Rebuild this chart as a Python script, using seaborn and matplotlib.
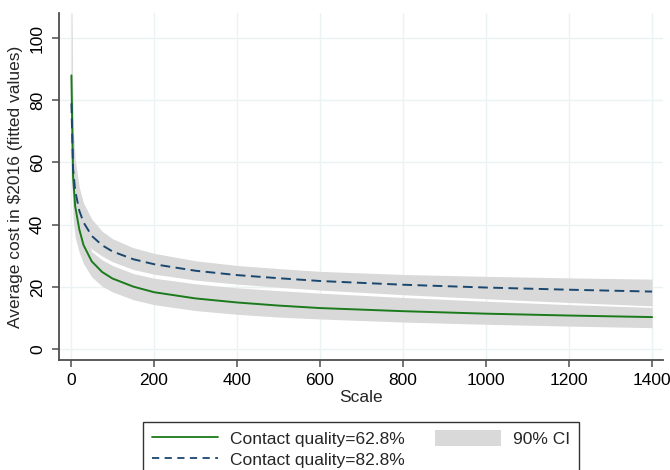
import numpy as np
import pandas as pd
import seaborn as sns
import matplotlib.pyplot as plt
from matplotlib.patches import Patch

# fitted average cost by scale
scale = [1, 5, 10, 20, 30, 50, 75, 100, 150, 200, 300, 400, 500, 600, 800, 1000, 1200, 1400]

cost_628 = [88, 55.5, 46.0, 38.5, 33.5, 28.2, 24.8, 22.7, 20.1, 18.3, 16.3, 15.0, 14.0, 13.2, 12.2, 11.4, 10.8, 10.3]
lo_628 = [62, 42, 36, 31.0, 27.5, 23.2, 20.2, 18.4, 15.9, 14.3, 12.4, 11.2, 10.3, 9.7, 8.7, 8.0, 7.4, 6.9]
hi_628 = [122, 70, 57, 46, 39.5, 31.3, 28.7, 26.9, 24.3, 22.8, 21.0, 19.7, 18.8, 18.0, 16.6, 15.4, 14.3, 13.4]

cost_828 = [79, 58.0, 51.0, 44.5, 40.8, 36.4, 33.4, 31.4, 28.9, 27.3, 25.2, 23.8, 22.8, 21.9, 20.7, 19.8, 19.1, 18.5]
lo_828 = [56, 45.5, 41.5, 37.5, 35.0, 32.2, 29.9, 28.1, 25.6, 24.1, 22.2, 20.9, 19.9, 19.0, 17.5, 16.2, 15.0, 13.9]
hi_828 = [112, 72, 61, 52, 47, 41.8, 37.9, 35.5, 32.6, 30.8, 28.4, 26.9, 25.9, 25.0, 24.0, 23.4, 22.9, 22.5]

labels = ["Contact quality=62.8%", "Contact quality=82.8%", "90% CI"]

df = pd.DataFrame({"scale": scale, "c628": cost_628, "c828": cost_828})

sns.set_style("white")
plt.rcParams["font.family"] = ["Liberation Sans", "DejaVu Sans"]

green = "#1b7a1b"
navy = "#1a476f"
band = "#d9d9d9"
grid = "#eaf2f3"
fs = 12.5

fig = plt.figure(figsize=(6.7, 4.7), dpi=100)
ax = fig.add_axes([0.088, 0.234, 0.902, 0.738])

ax.fill_between(scale, lo_828, hi_828, color=band, lw=0, zorder=1)
ax.fill_between(scale, lo_628, hi_628, color=band, lw=0, zorder=1)

sns.lineplot(data=df, x="scale", y="c628", color=green, linewidth=1.4, ax=ax, zorder=3)
sns.lineplot(data=df, x="scale", y="c828", color=navy, linewidth=1.4,
             linestyle=(0, (5.0, 2.8)), ax=ax, zorder=3)

ax.set_xlim(-29, 1427)
ax.set_ylim(-3.5, 108)
ax.set_xticks(np.arange(0, 1401, 200))
ax.set_yticks(np.arange(0, 101, 20))
ax.grid(True, color=grid, linewidth=1.0, zorder=0)
ax.set_axisbelow(True)

for s in ["top", "right"]:
    ax.spines[s].set_visible(False)
for s in ["left", "bottom"]:
    ax.spines[s].set_color("#4d4d4d")
    ax.spines[s].set_linewidth(1.3)

ax.tick_params(axis="both", direction="out", length=5, width=1.1, color="#4d4d4d",
               labelsize=fs, labelcolor="black", pad=4)
ax.tick_params(axis="x", bottom=True)
ax.tick_params(axis="y", left=True, pad=5)
plt.setp(ax.get_yticklabels(), rotation=90, va="center")

ax.set_xlabel("Scale", fontsize=fs, labelpad=2)
ax.set_ylabel("Average cost in $2016 (fitted values)", fontsize=fs, labelpad=5)

handles = [
    plt.Line2D([], [], color=green, lw=1.3),
    plt.Line2D([], [], color=navy, lw=1.3, linestyle=(0, (4, 3))),
    Patch(facecolor=band, edgecolor="none"),
]
fig.legend(handles, labels, ncol=2, loc="upper center",
           bbox_to_anchor=(361 / 670, 1 - 413 / 470), fontsize=fs,
           frameon=True, fancybox=False, edgecolor="#333333", framealpha=1,
           handlelength=3.8, handleheight=1.0, handletextpad=0.7,
           columnspacing=1.7, labelspacing=0.25, borderpad=0.5)

fig.savefig("out.png", dpi=100)
